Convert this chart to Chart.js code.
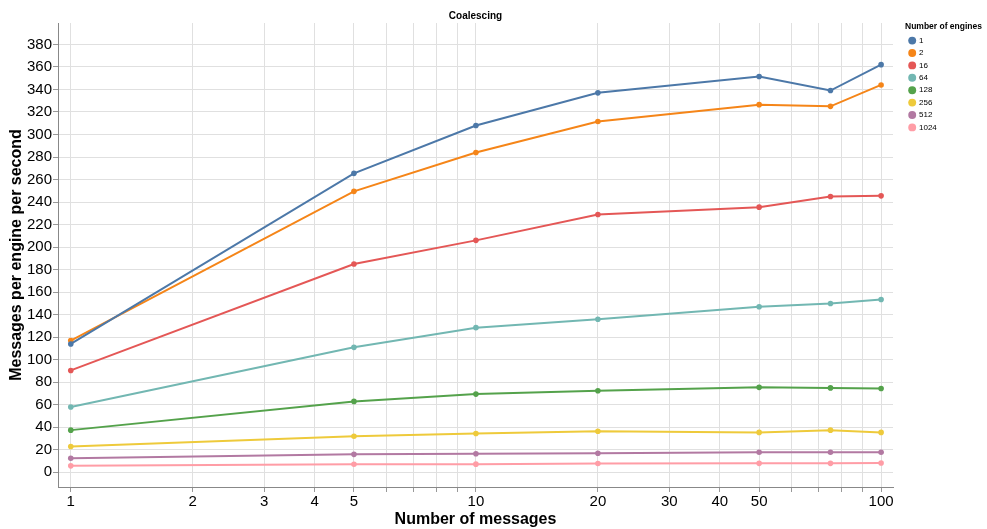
<!DOCTYPE html>
<html>
<head>
<meta charset="utf-8">
<script src="https://cdn.jsdelivr.net/npm/chart.js@4"></script>
<style>
  html, body { margin: 0; padding: 0; background: #fff; }
  #wrap { width: 987px; height: 529px; }
</style>
</head>
<body>
<div id="wrap"><canvas id="chart" width="987" height="529"></canvas></div>
<script>
// Данные графика
const messages = [1, 5, 10, 20, 50, 75, 100];
const engines = ['1', '2', '16', '64', '128', '256', '512', '1024'];
const colors = ['#4c78a8', '#f58518', '#e45756', '#72b7b2', '#54a24b', '#eeca3b', '#b279a2', '#ff9da6'];

const rate1 = [114, 265.5, 308, 337, 351.5, 339, 362];
const rate2 = [117, 249.5, 284, 311.5, 326.5, 325, 344];
const rate16 = [90.5, 185, 206, 229, 235.5, 245, 245.5];
const rate64 = [58, 111, 128.5, 136, 147, 150, 153.5];
const rate128 = [37.5, 63, 69.5, 72.5, 75.5, 75, 74.5];
const rate256 = [23, 32, 34.5, 36.5, 35.5, 37.5, 35.5];
const rate512 = [12.5, 16, 16.5, 17, 17.8, 17.8, 17.8];
const rate1024 = [5.8, 7.2, 7.3, 7.8, 8, 8, 8.3];

const xTicks = [1, 2, 3, 4, 5, 6, 7, 8, 9, 10, 20, 30, 40, 50, 60, 70, 80, 90, 100];
const xLabels = [1, 2, 3, 4, 5, 10, 20, 30, 40, 50, 100];
const yTicks = [0, 20, 40, 60, 80, 100, 120, 140, 160, 180, 200, 220, 240, 260, 280, 300, 320, 340, 360, 380];

const seriesValues = [rate1, rate2, rate16, rate64, rate128, rate256, rate512, rate1024];

const FONT = 'Liberation Sans, Arial, Helvetica, sans-serif';

const datasets = engines.map((name, i) => ({
    label: name,
    data: messages.map((m, j) => ({ x: m, y: seriesValues[i][j] })),
    borderColor: colors[i],
    backgroundColor: colors[i],
    borderWidth: 2,
    pointRadius: 2.8,
    pointHoverRadius: 3,
    pointBorderWidth: 0,
    tension: 0
}));

// Легенда справа фиксированной ширины (как в исходнике)
const legendWidthPlugin = {
    id: 'legendWidth',
    beforeUpdate(chart) {
        const legend = chart.legend;
        if (!legend || legend._patched) return;
        const origFit = legend.fit.bind(legend);
        legend.fit = function () {
            origFit();
            this.width = 94;
        };
        legend._patched = true;
    },
    afterLayout(chart) {
        const legend = chart.legend;
        if (!legend) return;
        legend.left += 12;
        legend.right += 12;
    }
};

new Chart(document.getElementById('chart'), {
    type: 'line',
    data: { datasets: datasets },
    plugins: [legendWidthPlugin],
    options: {
        responsive: false,
        animation: false,
        layout: { padding: { left: 0, right: 0, top: 0, bottom: 0 } },
        plugins: {
            title: {
                display: true,
                text: 'Coalescing',
                fullSize: false,
                color: '#000',
                font: { family: FONT, size: 10, weight: 'bold' },
                padding: { top: 10, bottom: 1 }
            },
            legend: {
                position: 'right',
                align: 'start',
                title: {
                    display: true,
                    text: 'Number of engines',
                    position: 'start',
                    color: '#000',
                    font: { family: FONT, size: 8.5, weight: 'bold' },
                    padding: { top: 22, bottom: 0 }
                },
                labels: {
                    usePointStyle: true,
                    pointStyle: 'circle',
                    boxHeight: 5.6,
                    boxWidth: 5.6,
                    padding: 4.4,
                    color: '#000',
                    font: { family: FONT, size: 8 }
                }
            },
            tooltip: { enabled: false }
        },
        scales: {
            x: {
                type: 'logarithmic',
                min: 0.93,
                max: 107,
                afterBuildTicks: (scale) => {
                    scale.ticks = xTicks.map(v => ({ value: v }));
                },
                afterFit: (scale) => { scale.height = 42; },
                ticks: {
                    autoSkip: false,
                    maxRotation: 0,
                    color: '#000',
                    font: { family: FONT, size: 15 },
                    padding: 1,
                    callback: (v) => xLabels.includes(v) ? String(v) : ''
                },
                grid: { color: '#e0e0e0', tickColor: '#999', tickLength: 5 },
                border: { color: '#888' },
                title: {
                    display: true,
                    text: 'Number of messages',
                    color: '#000',
                    font: { family: FONT, size: 16, weight: 'bold' },
                    padding: { top: 0, bottom: 0 }
                }
            },
            y: {
                min: -13,
                max: 399,
                afterBuildTicks: (scale) => {
                    scale.ticks = yTicks.map(v => ({ value: v }));
                },
                afterFit: (scale) => { scale.width = 58; },
                ticks: {
                    color: '#000',
                    font: { family: FONT, size: 15 },
                    padding: 1
                },
                grid: { color: '#e0e0e0', tickColor: '#999', tickLength: 5 },
                border: { color: '#888' },
                title: {
                    display: true,
                    text: 'Messages per engine per second',
                    color: '#000',
                    font: { family: FONT, size: 16, weight: 'bold' },
                    padding: { top: 7, bottom: 2 }
                }
            }
        }
    }
});
</script>
</body>
</html>
